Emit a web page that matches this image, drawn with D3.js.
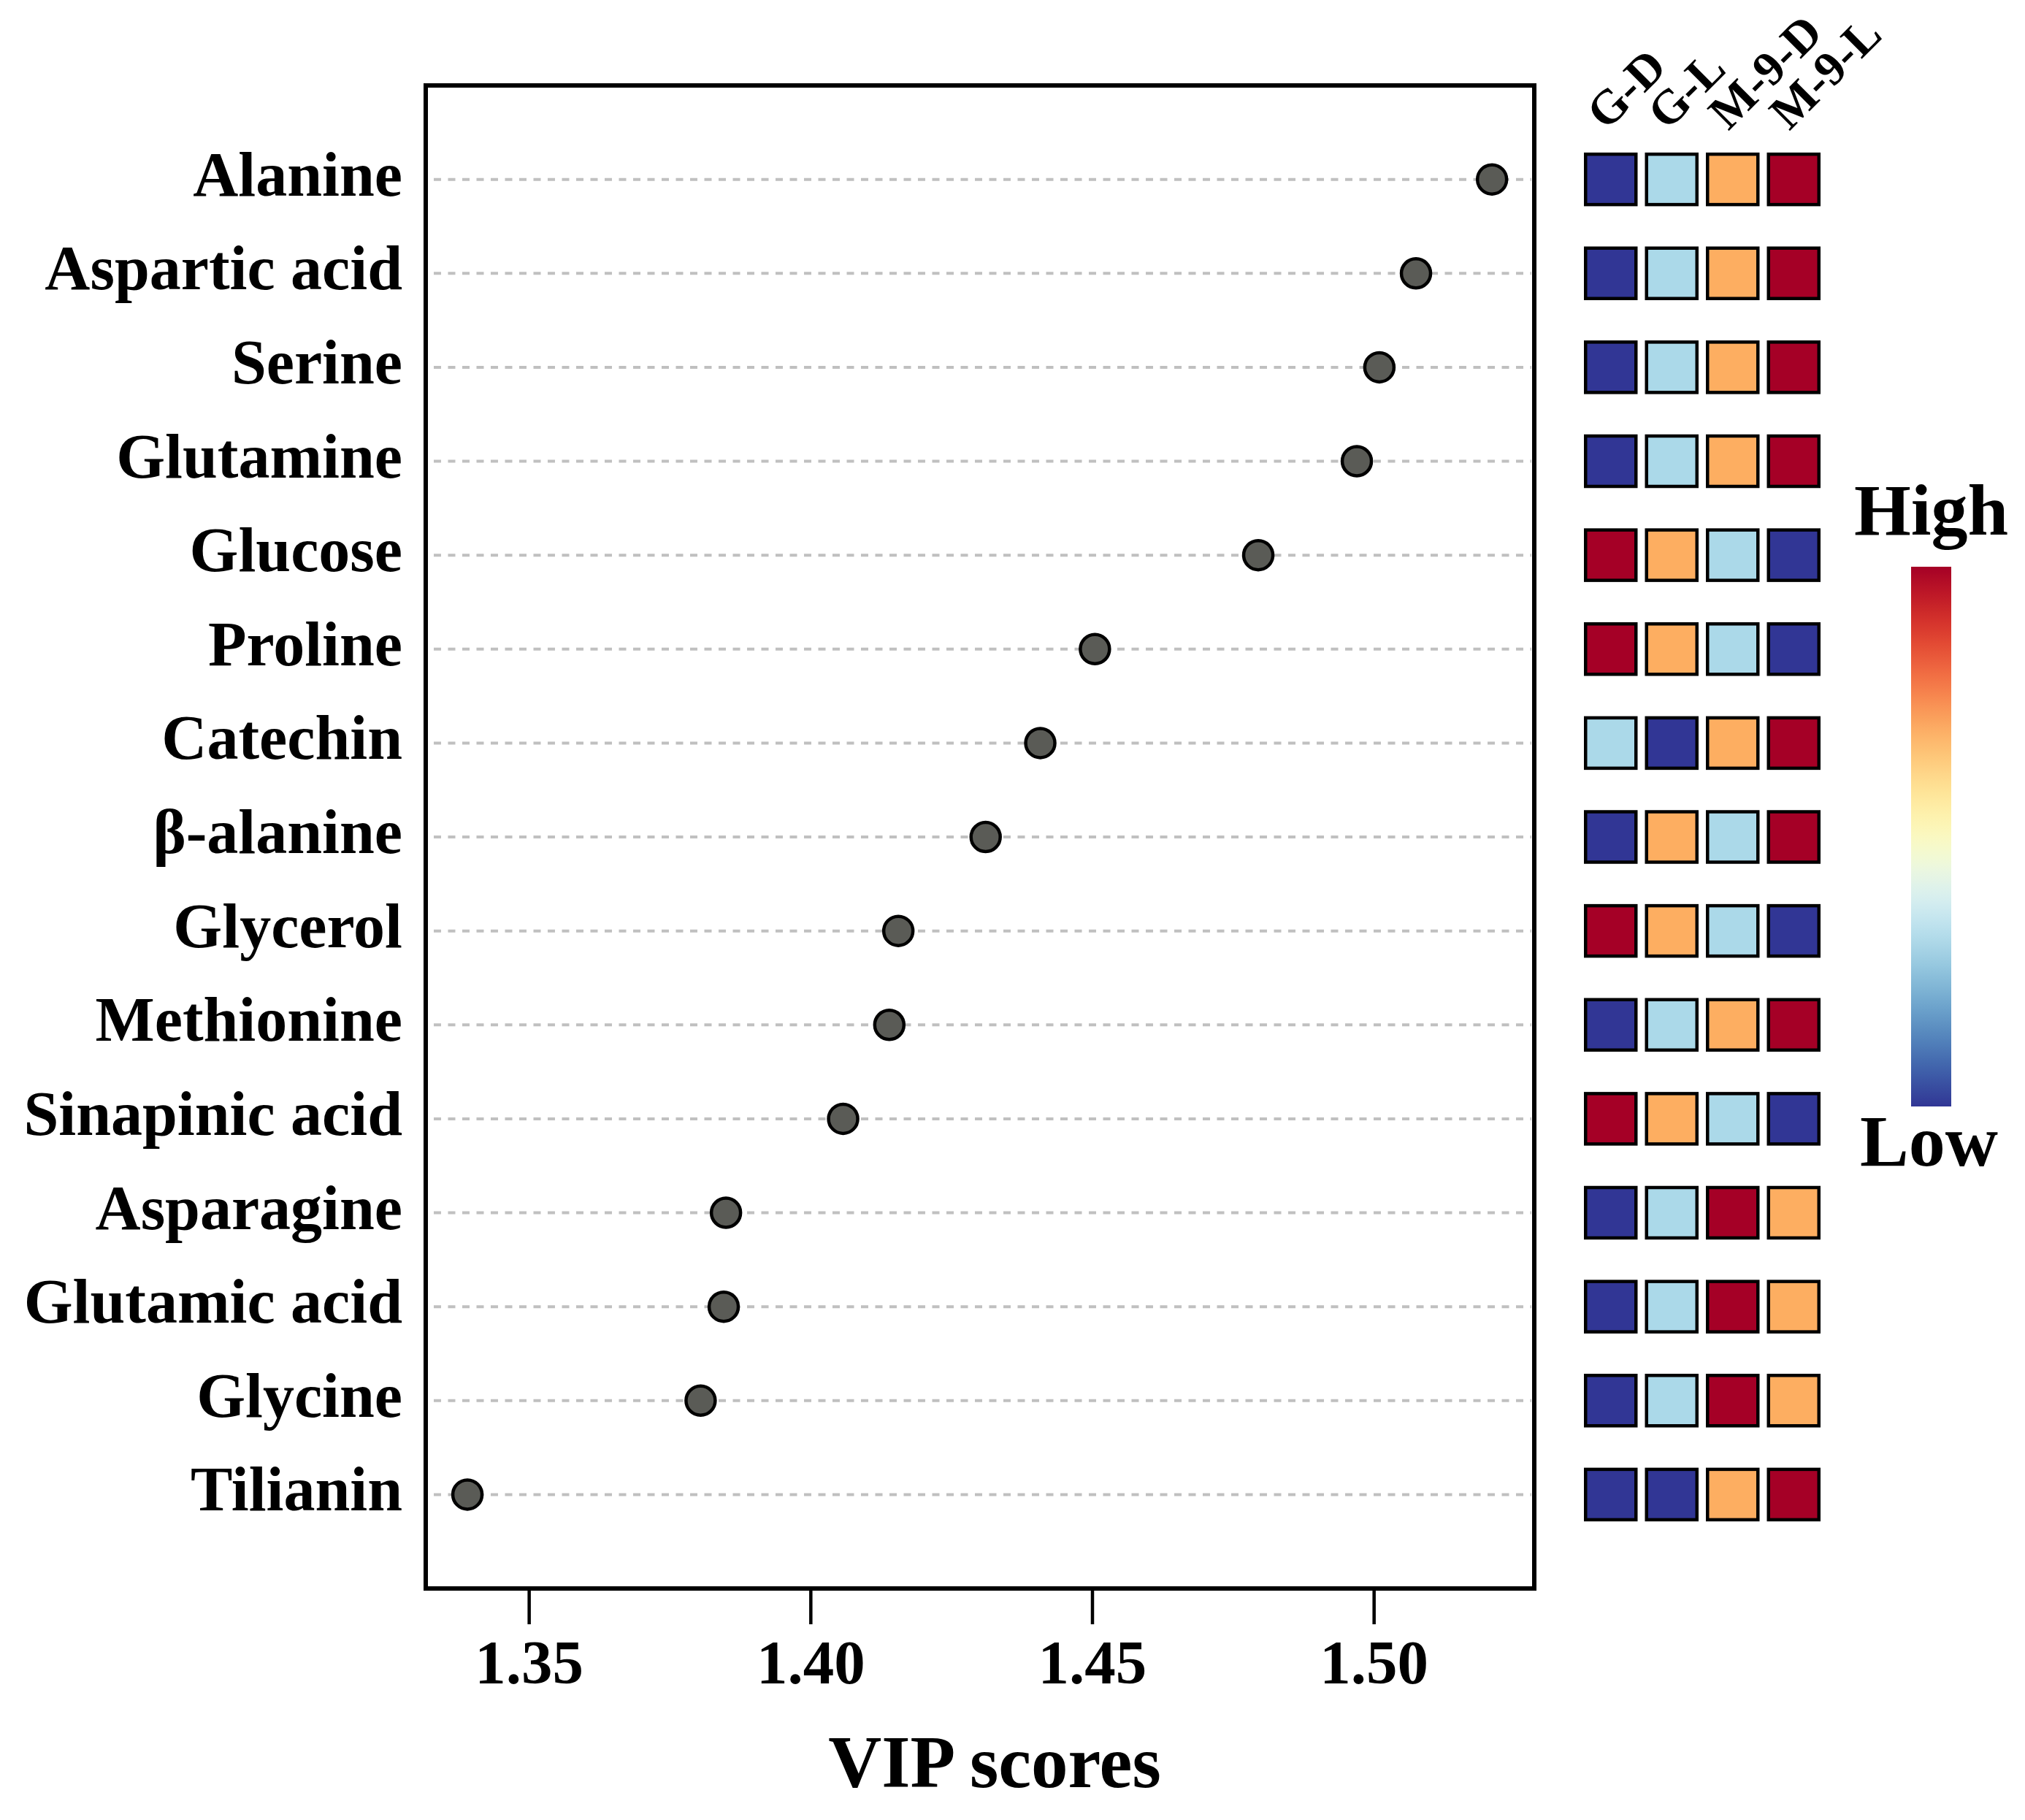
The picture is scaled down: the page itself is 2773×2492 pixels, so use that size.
<!DOCTYPE html>
<html>
<head>
<meta charset="utf-8">
<script src="https://cdn.jsdelivr.net/npm/d3@7"></script>
<style>
  html, body { margin: 0; padding: 0; background: #ffffff; }
  svg { display: block; }
  text { font-family: "Liberation Serif", "Times New Roman", serif; font-weight: bold; fill: #000; }
</style>
</head>
<body>
<script>
// ---------- data ----------
const metabolites = ["Alanine", "Aspartic acid", "Serine", "Glutamine", "Glucose", "Proline",
  "Catechin", "β-alanine", "Glycerol", "Methionine", "Sinapinic acid", "Asparagine",
  "Glutamic acid", "Glycine", "Tilianin"];
const vipScores = [1.521, 1.5075, 1.501, 1.497, 1.4795, 1.4505, 1.4408, 1.4311, 1.4156,
  1.414, 1.4058, 1.385, 1.3846, 1.3805, 1.3391];
const groups = ["G-D", "G-L", "M-9-D", "M-9-L"];
// relative level per metabolite and group (1 = lowest ... 4 = highest)
const levels = [
  [1, 2, 3, 4],
  [1, 2, 3, 4],
  [1, 2, 3, 4],
  [1, 2, 3, 4],
  [4, 3, 2, 1],
  [4, 3, 2, 1],
  [2, 1, 3, 4],
  [1, 3, 2, 4],
  [4, 3, 2, 1],
  [1, 2, 3, 4],
  [4, 3, 2, 1],
  [1, 2, 4, 3],
  [1, 2, 4, 3],
  [1, 2, 4, 3],
  [1, 1, 3, 4]
];
const levelColors = ["#313695", "#ABD9E9", "#FDAE61", "#A50026"];
const xTicks = [1.35, 1.40, 1.45, 1.50];
const xDomain = [1.3317, 1.5285];

// ---------- layout ----------
const W = 2773, H = 2492;
const plot = { left: 583, right: 2101, top: 117, bottom: 2175 };

const svg = d3.select("body").append("svg")
  .attr("width", W).attr("height", H)
  .attr("viewBox", `0 0 ${W} ${H}`);
svg.append("rect").attr("width", W).attr("height", H).attr("fill", "#fff");

const x = d3.scaleLinear().domain(xDomain).range([plot.left, plot.right]);
const y = d3.scalePoint().domain(metabolites).range([plot.top, plot.bottom]).padding(1);

const rows = metabolites.map((m, i) => ({ name: m, vip: vipScores[i], lv: levels[i] }));

// dashed guide lines
svg.append("g").selectAll("line").data(rows).join("line")
  .attr("x1", plot.left + 11).attr("x2", plot.right - 4)
  .attr("y1", d => y(d.name)).attr("y2", d => y(d.name))
  .attr("stroke", "#c0c0c0").attr("stroke-width", 4)
  .attr("stroke-dasharray", "10,9.5");

// points
svg.append("g").selectAll("circle").data(rows).join("circle")
  .attr("cx", d => x(d.vip)).attr("cy", d => y(d.name))
  .attr("r", 20)
  .attr("fill", "#5a5b56").attr("stroke", "#000").attr("stroke-width", 4.5);

// frame
svg.append("rect")
  .attr("x", plot.left).attr("y", plot.top)
  .attr("width", plot.right - plot.left).attr("height", plot.bottom - plot.top)
  .attr("fill", "none").attr("stroke", "#000").attr("stroke-width", 6);

// x axis
const xAxis = d3.axisBottom(x).tickValues(xTicks).tickFormat(d3.format(".2f"))
  .tickSize(46).tickSizeOuter(0).tickPadding(20);
const gx = svg.append("g").attr("transform", `translate(0,${plot.bottom + 3})`).call(xAxis);
gx.select(".domain").remove();
gx.selectAll(".tick line").attr("stroke", "#000").attr("stroke-width", 4.5);
gx.selectAll(".tick text")
  .attr("font-size", 85).attr("dy", "0.72em")
  .style("font-family", "'Liberation Serif', 'Times New Roman', serif")
  .style("font-weight", "bold").attr("fill", "#000");

// y labels
svg.append("g").selectAll("text").data(rows).join("text")
  .attr("x", 551).attr("y", d => y(d.name) + 22)
  .attr("text-anchor", "end").attr("font-size", 86)
  .text(d => d.name);

// x title
svg.append("text")
  .attr("x", (plot.left + plot.right) / 2 + 20).attr("y", 2447)
  .attr("text-anchor", "middle").attr("font-size", 101)
  .text("VIP scores");

// ---------- heatmap ----------
const hx = d3.scaleBand().domain(groups).range([2164, 2498]).paddingInner(0).paddingOuter(0);
const cellSide = 69;
const hg = svg.append("g");
rows.forEach(r => {
  hg.append("g").selectAll("rect").data(groups.map((g, j) => ({ g, v: r.lv[j] }))).join("rect")
    .attr("x", d => hx(d.g) + hx.bandwidth() / 2 - cellSide / 2)
    .attr("y", y(r.name) - cellSide / 2)
    .attr("width", cellSide).attr("height", cellSide)
    .attr("fill", d => levelColors[d.v - 1])
    .attr("stroke", "#000").attr("stroke-width", 4.5);
});

// column labels (rotated)
svg.append("g").selectAll("text").data(groups).join("text")
  .attr("transform", d => `translate(${hx(d) + hx.bandwidth() / 2 - 6},180) rotate(-45)`)
  .attr("text-anchor", "start").attr("font-size", 66)
  .text(d => d);

// ---------- colour legend ----------
const defs = svg.append("defs");
const grad = defs.append("linearGradient").attr("id", "rdylbu")
  .attr("x1", 0).attr("y1", 0).attr("x2", 0).attr("y2", 1);
d3.range(0, 1.0001, 0.02).forEach(t => {
  grad.append("stop").attr("offset", t).attr("stop-color", d3.interpolateRdYlBu(t));
});
const cb = { x: 2617, y: 776, w: 55, h: 739 };
svg.append("rect").attr("x", cb.x).attr("y", cb.y).attr("width", cb.w).attr("height", cb.h)
  .attr("fill", "url(#rdylbu)");
svg.append("text").attr("x", cb.x + cb.w / 2).attr("y", 732)
  .attr("text-anchor", "middle").attr("font-size", 100).text("High");
svg.append("text").attr("x", cb.x + cb.w / 2 - 3).attr("y", 1596)
  .attr("text-anchor", "middle").attr("font-size", 100).text("Low");
</script>
</body>
</html>
